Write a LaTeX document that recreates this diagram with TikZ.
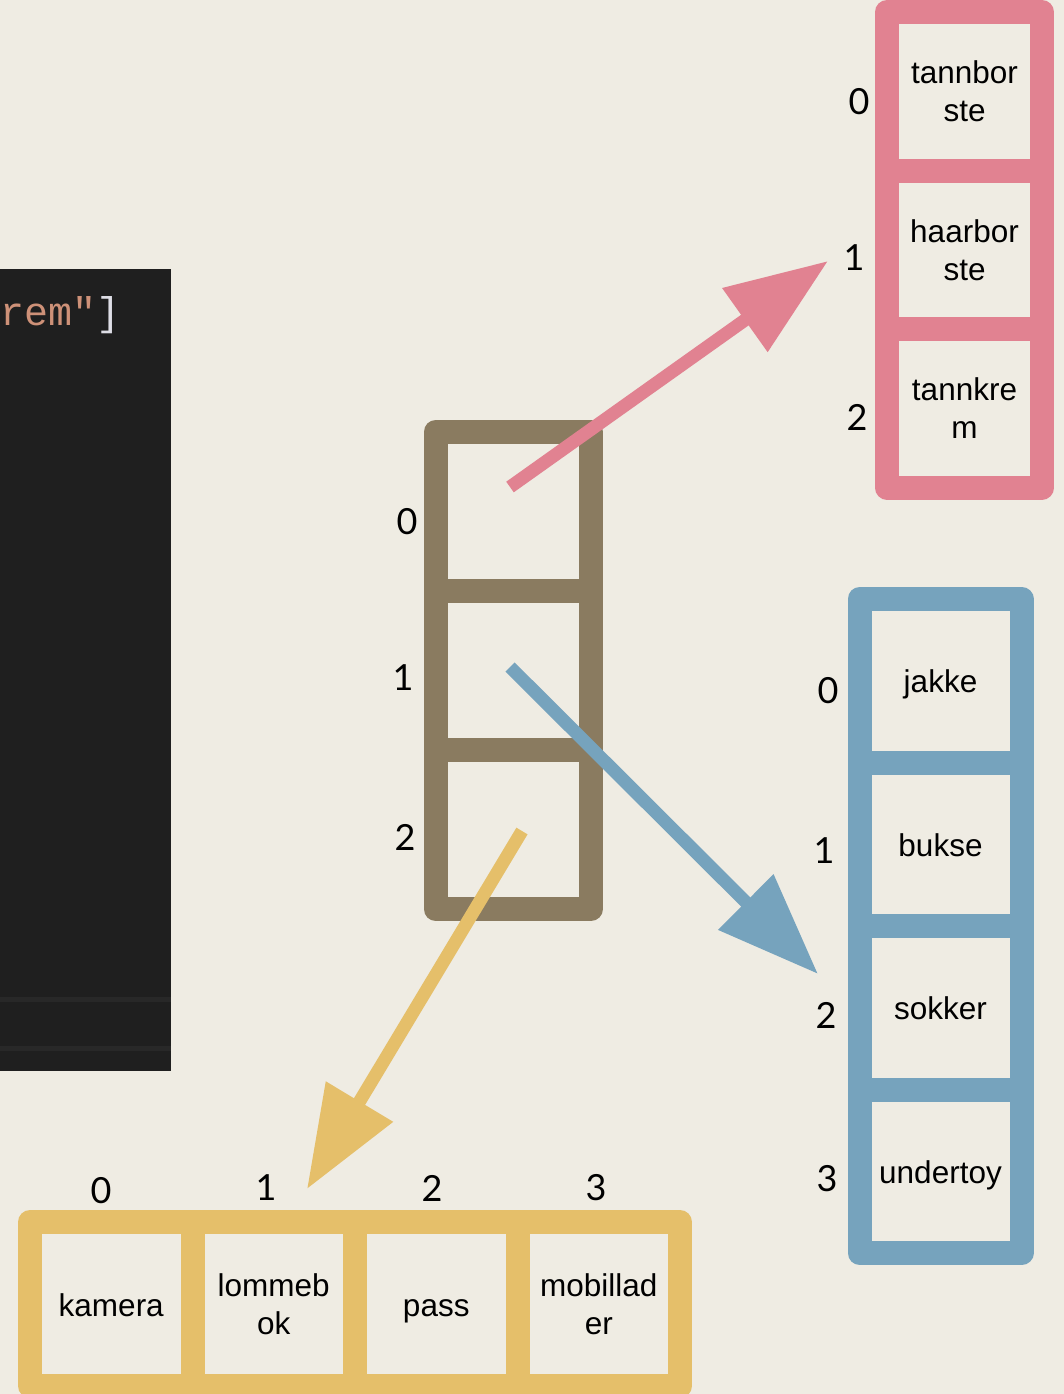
\documentclass[tikz,border=0pt]{standalone}
\usepackage{fontspec}
\setmainfont{Liberation Sans}
\newfontfamily\digitfont{Lato}
\newfontfamily\codefont{Liberation Mono}
\usetikzlibrary{arrows.meta}
\definecolor{bg}{RGB}{239,236,227}
\definecolor{pinkc}{RGB}{225,130,145}
\definecolor{brownc}{RGB}{138,123,96}
\definecolor{bluec}{RGB}{118,163,189}
\definecolor{yellowc}{RGB}{229,191,106}
\definecolor{codebg}{RGB}{31,31,31}
\definecolor{codeline}{RGB}{40,40,40}
\definecolor{strc}{RGB}{206,145,120}
\definecolor{brkc}{RGB}{222,222,230}
\tikzset{
  cellbox/.style={draw, line width=24pt, line join=round, inner sep=0pt, outer sep=0pt,
    align=center, font=\fontsize{31.5}{38}\selectfont, text=black},
  oneline/.style={text height=24pt, text depth=0pt},
  pcell/.style={cellbox, draw=pinkc, minimum width=155pt, minimum height=158.5pt},
  bcell/.style={cellbox, draw=brownc, minimum width=155.5pt, minimum height=159pt},
  ucell/.style={cellbox, draw=bluec, minimum width=162pt, minimum height=163.5pt},
  ycell/.style={cellbox, draw=yellowc, minimum width=162.5pt, minimum height=164pt},
  idx/.style={inner sep=0pt, font=\digitfont\fontsize{36}{36}\selectfont, text=black},
  arr/.style={line width=13pt, -{Triangle[length=102pt,width=75pt]}}
}
\begin{document}
\begin{tikzpicture}[x=1pt,y=-1pt]
\fill[bg] (0,0) rectangle (1064,1394);
\useasboundingbox (0,0) rectangle (1064,1394);
% code panel
\fill[codebg] (0,269) rectangle (171,1071);
\fill[codeline] (0,997) rectangle (171,1002);
\fill[codeline] (0,1046) rectangle (171,1051);
\node[anchor=base west, inner sep=0pt, font=\codefont\fontsize{40}{40}\selectfont] (code) at (0,325) {\textcolor{strc}{rem"}\textcolor{brkc}{]}};
% pink array
\node[pcell] (p0) at (964.5,91.25) {tannbor\\ste};
\node[pcell] (p1) at (964.5,249.75) {haarbor\\ste};
\node[pcell] (p2) at (964.5,408.25) {tannkre\\m};
\node[idx] (pl0) at (859,102) {0};
\node[idx] (pl1) at (854,258) {1};
\node[idx] (pl2) at (857,417) {2};
% brown array
\node[bcell] (b0) at (513.25,511.5) {};
\node[bcell] (b1) at (513.25,670.5) {};
\node[bcell] (b2) at (513.25,829.5) {};
\node[idx] (bl0) at (407,522) {0};
\node[idx] (bl1) at (403,678) {1};
\node[idx] (bl2) at (405,837) {2};
% blue array
\node[ucell, oneline] (u0) at (940.5,680.75) {jakke};
\node[ucell, oneline] (u1) at (940.5,844.25) {bukse};
\node[ucell, oneline] (u2) at (940.5,1007.75) {sokker};
\node[ucell, oneline] (u3) at (940.5,1171.25) {undertoy};
\node[idx] (ul0) at (828,691) {0};
\node[idx] (ul1) at (824,851) {1};
\node[idx] (ul2) at (826,1015) {2};
\node[idx] (ul3) at (827,1179) {3};
% yellow array
\node[ycell, oneline] (y0) at (111.25,1304) {kamera};
\node[ycell] (y1) at (273.75,1304) {lommeb\\ok};
\node[ycell, oneline] (y2) at (436.25,1304) {pass};
\node[ycell] (y3) at (598.75,1304) {mobillad\\er};
\node[idx] (yl0) at (101,1191) {0};
\node[idx] (yl1) at (266,1188) {1};
\node[idx] (yl2) at (432,1188) {2};
\node[idx] (yl3) at (596,1188) {3};
% arrows
\coordinate (ps) at (510,487);
\coordinate (pe) at (828,261);
\coordinate (us) at (510,667);
\coordinate (ue) at (818,974);
\coordinate (ys) at (522,831);
\coordinate (ye) at (307,1189);
\draw[arr, pinkc] (ps) -- (pe);
\draw[arr, bluec] (us) -- (ue);
\draw[arr, yellowc] (ys) -- (ye);
\end{tikzpicture}
\end{document}
